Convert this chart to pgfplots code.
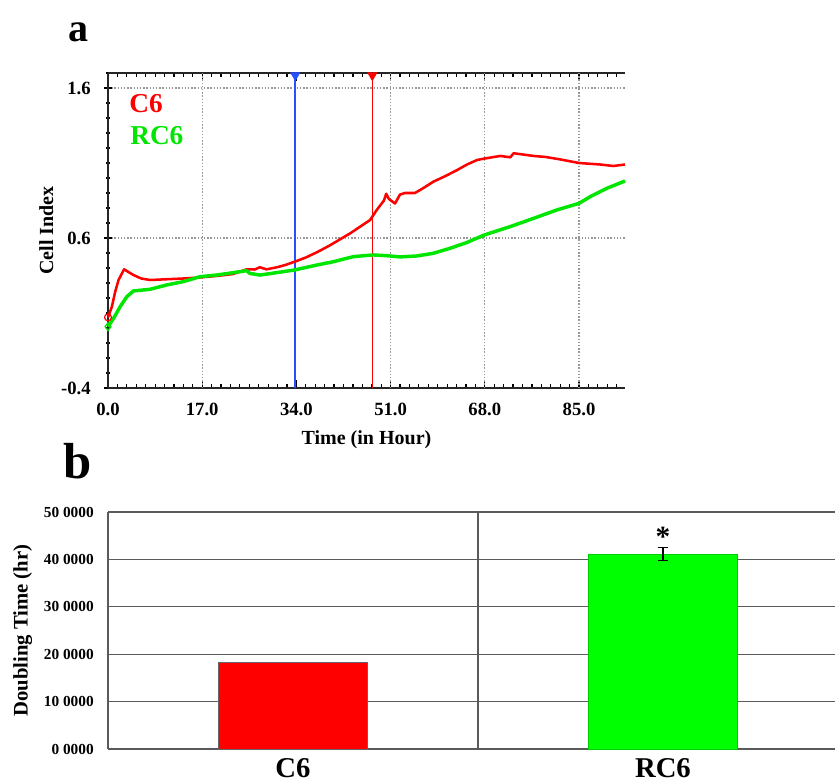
\documentclass[border=0pt]{standalone}
\usepackage{fontspec}
\setmainfont{Liberation Serif}
\usepackage{pgfplots}
\pgfplotsset{compat=1.18}
\newcommand{\fs}[1]{\fontsize{#1}{#1}\selectfont}
\definecolor{cred}{RGB}{255,0,0}
\definecolor{cgreen}{RGB}{0,230,0}
\definecolor{bgreen}{RGB}{0,255,0}
\definecolor{cblue}{RGB}{40,80,255}
\definecolor{gridgray}{RGB}{150,150,150}
\definecolor{bgrid}{RGB}{90,90,90}
\begin{document}
\begin{tikzpicture}
\useasboundingbox (0,0) rectangle (626.25pt,587.25pt);

% ---- panel a: cell index curves
\begin{axis}[
  at={(81pt,296.25pt)}, anchor=south west, scale only axis,
  width=387.75pt, height=236.25pt,
  xmin=0, xmax=93.3, ymin=-0.4, ymax=1.7,
  axis x line=box, axis y line=left,
  axis line style={-, line width=1.1pt, black!85},
  xtick={0,17,34,51,68,85}, xticklabels={0.0,17.0,34.0,51.0,68.0,85.0},
  ytick={-0.4,0.6,1.6}, yticklabels={-0.4,0.6,1.6},
  minor xtick={1.7,3.4,...,93.3}, minor ytick={-0.3,-0.2,...,1.65},
  major tick length=6pt, minor tick length=3pt,
  tick style={black, line width=0.9pt},
  ymajorgrids,
  extra x ticks={17,51,68,85}, extra x tick labels={},
  extra x tick style={grid=major, major tick length=0pt},
  major grid style={gridgray, line width=0.9pt, dash pattern=on 1pt off 1.4pt},
  ticklabel style={font=\bfseries\fs{14}, inner sep=0pt},
  xticklabel style={yshift=-11pt},
  yticklabel style={xshift=-9.75pt},
  xlabel={Time (in Hour)}, ylabel={Cell Index},
  label style={font=\bfseries\fs{15}, inner sep=0pt},
  xlabel style={at={(axis description cs:0.5,-0.1333)}, anchor=north},
  ylabel style={at={(axis description cs:-0.1335,0.5)}, anchor=north},
  clip=false,
]
% cursor lines
\addplot[cblue, line width=1.3pt] coordinates {(33.8,-0.4) (33.8,1.7)};
\addplot[cred, line width=1.1pt] coordinates {(47.7,-0.4) (47.7,1.7)};
\addplot[only marks, mark=triangle*, mark size=4pt, mark options={rotate=180, fill=cblue, draw=cblue}] coordinates {(33.8,1.684)};
\addplot[only marks, mark=triangle*, mark size=4pt, mark options={rotate=180, fill=cred, draw=cred}] coordinates {(47.7,1.684)};

% C6
\addplot[cred, line width=1.9pt, line join=round] coordinates {
 (0,0.071) (0.7,0.142) (1.3,0.242) (1.9,0.32) (2.9,0.391) (4.6,0.353)
 (6.0,0.33) (7.6,0.32) (10.6,0.325) (13.6,0.33) (16.6,0.337) (19.6,0.347)
 (22.6,0.36) (25,0.391) (26.5,0.39) (27.4,0.405) (28.6,0.391) (30.5,0.405)
 (32,0.42) (33.7,0.442) (35.7,0.47) (37.7,0.505) (40,0.55) (43.7,0.631)
 (47.3,0.72) (48.5,0.787) (49.8,0.85) (50.2,0.895) (50.7,0.86) (51.8,0.83)
 (52.7,0.89) (53.6,0.90) (55.4,0.90) (57,0.935) (58.7,0.975) (61,1.015)
 (63,1.053) (64.8,1.09) (66.6,1.12) (68,1.13) (70.8,1.147) (72.6,1.138)
 (73.2,1.165) (76.8,1.147) (79,1.14) (81.6,1.124) (85,1.10) (88.8,1.09)
 (91.2,1.08) (93.3,1.09)
};
% RC6
\addplot[cgreen, line width=2.6pt, line join=round] coordinates {
 (0,0.009) (1.0,0.064) (2.2,0.142) (3.4,0.209) (4.6,0.247) (7.6,0.258)
 (10.6,0.287) (13.6,0.309) (16.6,0.342) (19.6,0.353) (22.6,0.369) (25,0.382)
 (25.6,0.364) (27.4,0.353) (30.4,0.369) (33.7,0.387) (37.7,0.42) (40.7,0.442)
 (44.3,0.476) (47.9,0.487) (50.3,0.482) (52.7,0.474) (55.7,0.48) (58.7,0.498)
 (61.7,0.531) (64.7,0.569) (67.9,0.62) (72.6,0.676) (76.8,0.731) (81,0.787)
 (85,0.831) (87,0.875) (90,0.931) (93.3,0.98)
};
\addplot[only marks, mark=o, mark size=2.6pt, cred, line width=0.9pt] coordinates {(0,0.071)};
\addplot[only marks, mark=diamond, mark size=3pt, cgreen, line width=0.9pt] coordinates {(0,0.009)};
\end{axis}

\node[anchor=base west, inner sep=0pt, font=\bfseries\fs{20.5}, text=cred] at (96.75pt,502.5pt) {C6};
\node[anchor=base west, inner sep=0pt, font=\bfseries\fs{20.5}, text=cgreen] at (97.5pt,478.5pt) {RC6};
\node[anchor=base west, inner sep=0pt, font=\bfseries\fs{30}] at (51pt,555.75pt) {a};
\node[anchor=base west, inner sep=0pt, font=\bfseries\fs{38}] at (47.25pt,228.75pt) {b};

% ---- panel b: doubling time bars
\begin{axis}[
  at={(81pt,25.5pt)}, anchor=south west, scale only axis,
  width=545.25pt, height=177.75pt,
  xmin=-0.5, xmax=1.465, ymin=0, ymax=50,
  axis x line*=bottom, axis y line*=left,
  axis line style={-, line width=1pt, bgrid},
  xtick={0,1}, xticklabels={C6,RC6},
  ytick={0,10,20,30,40,50},
  yticklabels={0 0000,10 0000,20 0000,30 0000,40 0000,50 0000},
  major tick length=0pt,
  ymajorgrids, major grid style={bgrid, line width=1pt},
  extra x ticks={0.5}, extra x tick labels={}, extra x tick style={grid=major},
  xticklabel style={font=\bfseries\fs{21.5}, inner sep=0pt, yshift=-7pt},
  yticklabel style={font=\bfseries\fs{11.5}, inner sep=0pt, xshift=-10.5pt},
  ylabel={Doubling Time (hr)},
  ylabel style={font=\bfseries\fs{15.5}, inner sep=0pt, at={(axis description cs:-0.1307,0.5)}, anchor=north},
  clip=false,
]
\addplot[ybar, bar width=0.403, fill=cred, draw=black!60, line width=0.4pt] coordinates {(0,18.4)};
\addplot[ybar, bar width=0.403, fill=bgreen, draw=bgreen!80!black, line width=0.3pt,
  error bars/.cd, y dir=both, y explicit,
  error bar style={black, line width=1pt},
  error mark options={rotate=90, mark size=4pt, line width=1pt, black}]
  coordinates {(1,41.1) +- (0,1.4)};
\node[anchor=north, inner sep=0pt, font=\bfseries\fs{22}] at (axis cs:1,46.8) {*};
\end{axis}
\end{tikzpicture}
\end{document}
